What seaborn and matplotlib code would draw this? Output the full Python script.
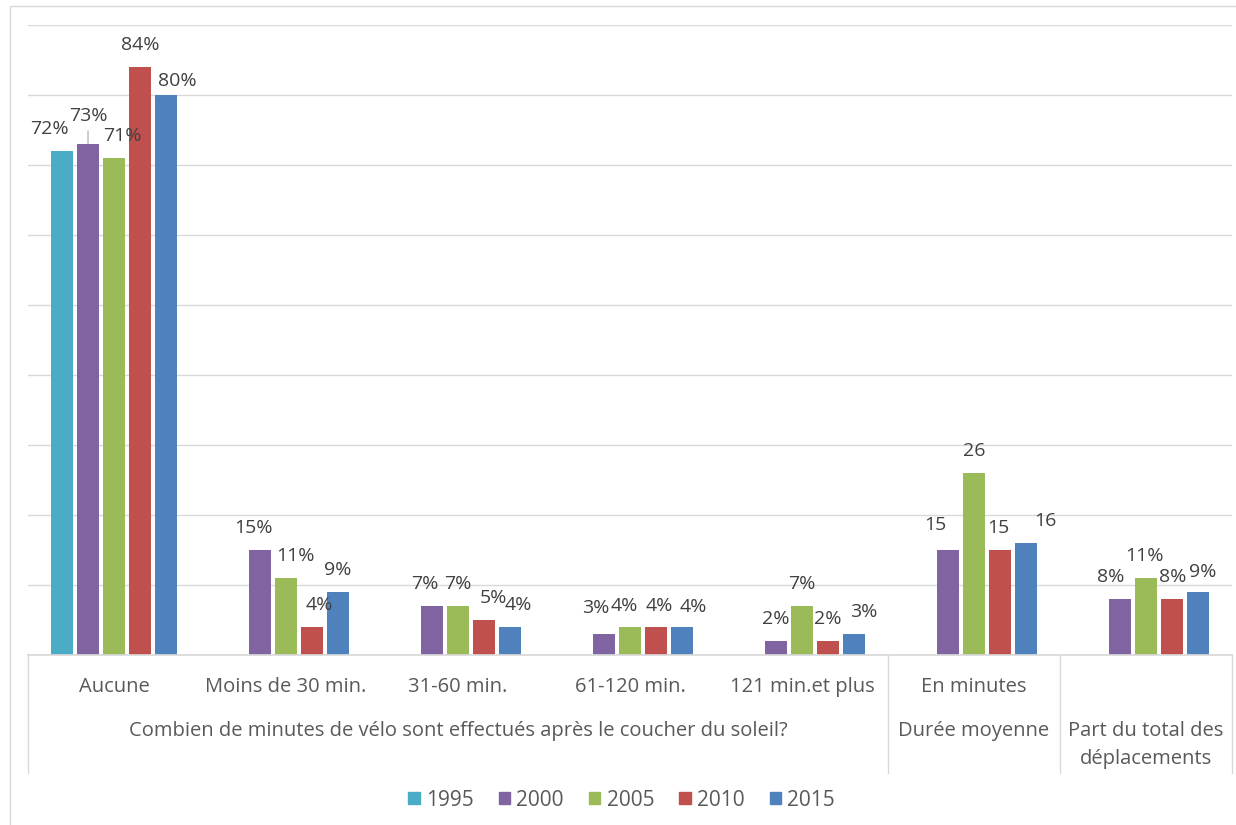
import numpy as np
import pandas as pd
import matplotlib
matplotlib.use("Agg")
import matplotlib.pyplot as plt
import matplotlib.transforms as mtransforms
from matplotlib.patches import Rectangle, Patch
import seaborn as sns

# data
cats = ["Aucune", "Moins de 30 min.", "31-60 min.", "61-120 min.",
        "121 min.et plus", "En minutes", "Part"]
tick_labels = ["Aucune", "Moins de 30 min.", "31-60 min.", "61-120 min.",
               "121 min.et plus", "En minutes", ""]
units = ["%", "%", "%", "%", "%", "", "%"]
years = ["1995", "2000", "2005", "2010", "2015"]
v1995 = [72, np.nan, np.nan, np.nan, np.nan, np.nan, np.nan]
v2000 = [73, 15, 7, 3, 2, 15, 8]
v2005 = [71, 11, 7, 4, 7, 26, 11]
v2010 = [84, 4, 5, 4, 2, 15, 8]
v2015 = [80, 9, 4, 4, 3, 16, 9]
group_title = "Combien de minutes de vélo sont effectués après le coucher du soleil?"
group_duree = "Durée moyenne"
group_part = ["Part du total des", "déplacements"]

colors = ["#4BACC6", "#8064A2", "#9BBB59", "#C0504D", "#4F81BD"]

vals = {"1995": v1995, "2000": v2000, "2005": v2005, "2010": v2010, "2015": v2015}
rows = []
for y in years:
    for c, v in zip(cats, vals[y]):
        rows.append({"cat": c, "year": y, "val": v})
df = pd.DataFrame(rows).dropna()

sns.set_theme(style="white")
plt.rcParams["font.family"] = ["Open Sans", "DejaVu Sans"]

W, H = 1236, 825
fig = plt.figure(figsize=(W / 100, H / 100), dpi=100)
ax = fig.add_axes([28 / W, 1 - 655 / H, 1204 / W, 630 / H])

sns.barplot(data=df, x="cat", y="val", hue="year", order=cats, hue_order=years,
            palette=colors, saturation=1, width=0.755, gap=0.17,
            linewidth=0, legend=False, ax=ax)

ax.set_xlim(-0.5, 6.5)
ax.set_ylim(0, 90)
ax.set_yticks(range(0, 91, 10))
ax.yaxis.grid(True, color="#D9D9D9", lw=1)
ax.set_axisbelow(True)
ax.tick_params(left=False, labelleft=False, bottom=False, labelbottom=False)
ax.set_xlabel("")
ax.set_ylabel("")
for s in ["top", "left", "right"]:
    ax.spines[s].set_visible(False)
ax.spines["bottom"].set_color("#D9D9D9")

# label nudges in pixels (Excel moved some labels to avoid overlaps)
nudge = {
    (0, "1995"): (-13, 0), (0, "2000"): (0, 6), (0, "2005"): (8, 0),
    (0, "2015"): (11, -8),
    (1, "2000"): (-7, 0), (1, "2005"): (9, 0), (1, "2010"): (7, 0),
    (2, "2000"): (-7, 0), (2, "2010"): (9, 0), (2, "2015"): (8, 0),
    (3, "2000"): (-8, 4), (3, "2005"): (-6, -1), (3, "2010"): (3, -1),
    (3, "2015"): (11, -2),
    (4, "2015"): (10, 0),
    (5, "2000"): (-13, 3), (5, "2010"): (-2, 0), (5, "2015"): (19, 0),
    (6, "2000"): (-9, 0), (6, "2005"): (-2, 0), (6, "2010"): (1, 0),
    (6, "2015"): (5, -2),
}
for y, cont in zip(years, ax.containers):
    for bar in cont:
        h = bar.get_height()
        if np.isnan(h):
            continue
        xc = bar.get_x() + bar.get_width() / 2
        i = int(round(xc))
        dx, dy = nudge.get((i, y), (0, 0))
        ax.annotate(f"{h:.0f}{units[i]}", (xc, h), xytext=(dx, 22 + dy),
                    textcoords="offset pixels", ha="center", va="center",
                    fontsize=14, color="#404040")

# leader line of the moved 73% label
ax.annotate("", (0 - 0.151, 73), xytext=(0, 13), textcoords="offset pixels",
            arrowprops=dict(arrowstyle="-", color="#A6A6A6", lw=0.8,
                            shrinkA=0, shrinkB=0))

# hierarchical category axis
tr = mtransforms.blended_transform_factory(ax.transData, ax.transAxes)
fs = 14.5
for i, lab in enumerate(tick_labels):
    ax.text(i, -32 / 630, lab, transform=tr, ha="center", va="center",
            fontsize=fs, color="#595959")
ax.text(2, -76 / 630, group_title, transform=tr, ha="center", va="center",
        fontsize=fs, color="#595959")
ax.text(5, -76 / 630, group_duree, transform=tr, ha="center", va="center",
        fontsize=fs, color="#595959")
ax.text(6, -76 / 630, group_part[0], transform=tr, ha="center", va="center",
        fontsize=fs, color="#595959")
ax.text(6, -104 / 630, group_part[1], transform=tr, ha="center", va="center",
        fontsize=fs, color="#595959")
for xs in [-0.5, 4.5, 5.5, 6.5]:
    ax.plot([xs, xs], [0, -118 / 630], transform=tr, color="#D9D9D9",
            lw=1, clip_on=False)

# chart border
fig.patches.append(Rectangle((10 / W, -0.02), 1.05, 1 - 6 / H + 0.02,
                             transform=fig.transFigure, fill=False,
                             ec="#D9D9D9", lw=1))

handles = [Patch(color=c) for c in colors]
fig.legend(handles, years, loc="center", bbox_to_anchor=(0.503, 1 - 800 / H),
           ncol=5, frameon=False, fontsize=15, handlelength=0.55,
           handleheight=0.55, handletextpad=0.3, columnspacing=1.2,
           labelcolor="#595959")

fig.savefig("out.png", dpi=100)
